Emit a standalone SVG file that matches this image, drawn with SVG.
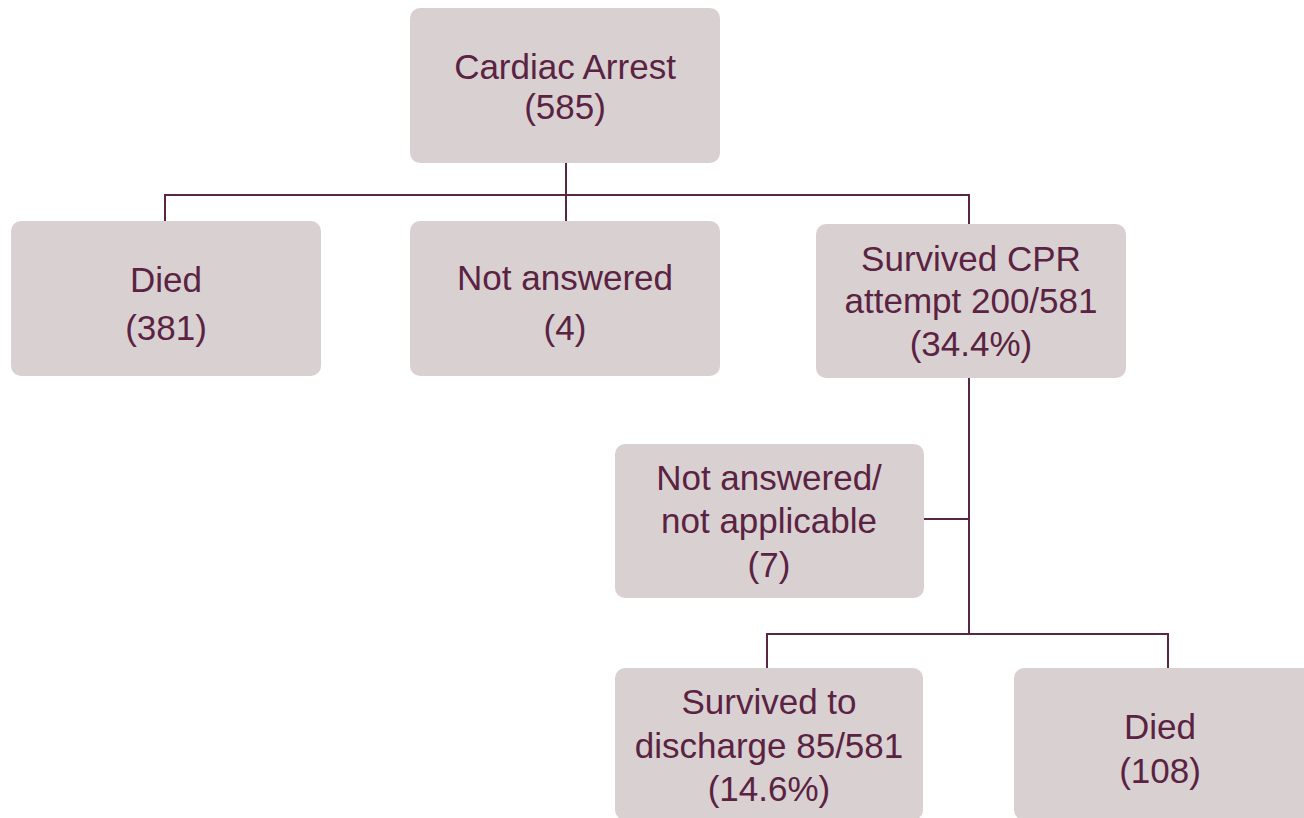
<svg xmlns="http://www.w3.org/2000/svg" width="1304" height="818" viewBox="0 0 1304 818">
<style>
.box{fill:#d9d0d2;}
.t{font-family:"Liberation Sans",Arial,sans-serif;font-size:35px;fill:#5a2341;text-anchor:middle;}
.c{stroke:#5a2644;stroke-width:2;fill:none;}
</style>
<rect width="1304" height="818" fill="#ffffff"/>
<g id="connectors">
<path class="c" d="M566,163 V221"/>
<path class="c" d="M165,221 V195 H969 V224"/>
<path class="c" d="M969,378 V634"/>
<path class="c" d="M924,519 H969"/>
<path class="c" d="M767,668 V634 H1168 V668"/>
</g>
<g id="n_arrest">
<rect class="box" x="410" y="8" width="310" height="155" rx="10"/>
<text class="t" x="565" y="79">Cardiac Arrest</text>
<text class="t" x="565" y="119">(585)</text>
</g>
<g id="n_died1">
<rect class="box" x="11" y="221" width="310" height="155" rx="10"/>
<text class="t" x="166" y="292">Died</text>
<text class="t" x="166" y="340">(381)</text>
</g>
<g id="n_notanswered">
<rect class="box" x="410" y="221" width="310" height="155" rx="10"/>
<text class="t" x="565" y="290">Not answered</text>
<text class="t" x="565" y="340">(4)</text>
</g>
<g id="n_survivedcpr">
<rect class="box" x="816" y="224" width="310" height="154" rx="10"/>
<text class="t" x="971" y="271">Survived CPR</text>
<text class="t" x="971" y="313">attempt 200/581</text>
<text class="t" x="971" y="356">(34.4%)</text>
</g>
<g id="n_notapplicable">
<rect class="box" x="615" y="444" width="309" height="154" rx="10"/>
<text class="t" x="769" y="490">Not answered/</text>
<text class="t" x="769" y="533">not applicable</text>
<text class="t" x="769" y="577">(7)</text>
</g>
<g id="n_discharge">
<rect class="box" x="615" y="668" width="308" height="152" rx="10"/>
<text class="t" x="769" y="714">Survived to</text>
<text class="t" x="769" y="758">discharge 85/581</text>
<text class="t" x="769" y="801">(14.6%)</text>
</g>
<g id="n_died2">
<rect class="box" x="1014" y="668" width="300" height="152" rx="10"/>
<text class="t" x="1160" y="739">Died</text>
<text class="t" x="1160" y="783">(108)</text>
</g>
</svg>
